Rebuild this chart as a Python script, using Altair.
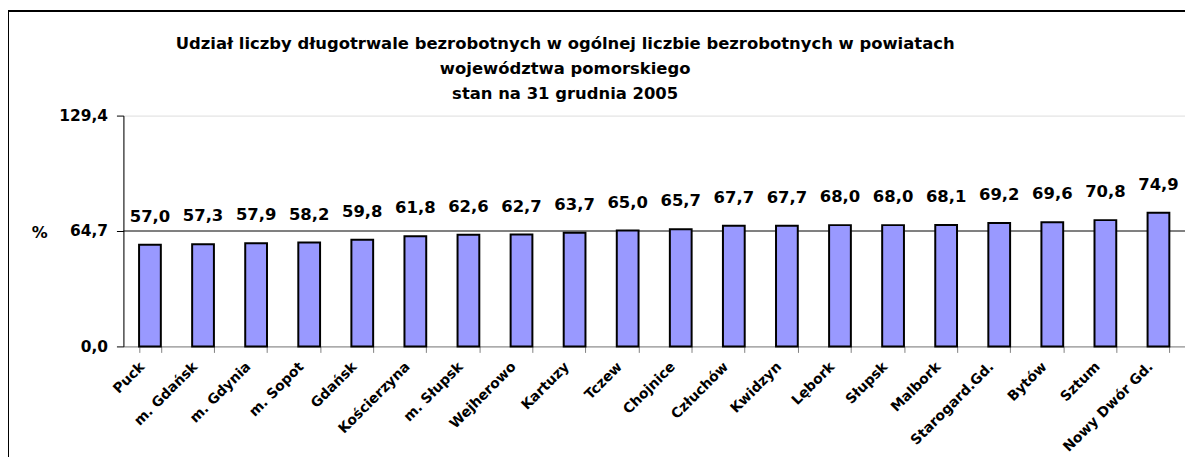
import altair as alt
import pandas as pd

categories = ["Puck", "m. Gdańsk", "m. Gdynia", "m. Sopot", "Gdańsk", "Kościerzyna",
              "m. Słupsk", "Wejherowo", "Kartuzy", "Tczew", "Chojnice", "Człuchów",
              "Kwidzyn", "Lębork", "Słupsk", "Malbork", "Starogard.Gd.", "Bytów",
              "Sztum", "Nowy Dwór Gd."]
values = [57.0, 57.3, 57.9, 58.2, 59.8, 61.8, 62.6, 62.7, 63.7, 65.0, 65.7, 67.7,
          67.7, 68.0, 68.0, 68.1, 69.2, 69.6, 70.8, 74.9]
y_ticks = [0.0, 64.7, 129.4]
reference_value = 64.7
title_lines = ["Udział liczby długotrwale bezrobotnych w ogólnej liczbie bezrobotnych w powiatach",
               "województwa pomorskiego",
               "stan na 31 grudnia 2005"]

FONT = "DejaVu Sans"
W, H = 1067, 232

df = pd.DataFrame({"cat": categories, "val": values})
df["label"] = [f"{v:.1f}".replace(".", ",") for v in values]

xenc = alt.X("cat:N", sort=categories, title=None,
             scale=alt.Scale(paddingInner=0.59, paddingOuter=0.295),
             axis=alt.Axis(labelAngle=-45, labelFont=FONT, labelFontSize=14,
                           labelFontWeight="bold", labelColor="black",
                           labelPadding=7, labelOffset=-13, tickBand="extent", tickSize=6,
                           tickColor="#808080", domainColor="#808080",
                           labelOverlap=False))
yscale = alt.Scale(domain=[0, 129.4], nice=False, zero=True)
yenc = alt.Y("val:Q", scale=yscale, title=None,
             axis=alt.Axis(values=y_ticks, format=".1f",
                           labelExpr="replace(datum.label, '.', ',')",
                           labelFont=FONT, labelFontSize=15.5, labelFontWeight="bold",
                           labelColor="black", tickSize=7, tickColor="black",
                           domainColor="black", labelPadding=9, grid=False))

base = alt.Chart(df)

frame = base.mark_rect(fill=None, stroke="black", strokeWidth=2).encode(
    x=alt.value(-116), x2=alt.value(W + 200), y=alt.value(-105), y2=alt.value(H + 300))

bars = base.mark_bar(color="#9999FF", stroke="black", strokeWidth=2).encode(
    x=xenc, y=yenc)

ref = alt.Chart(pd.DataFrame({"r": [reference_value]})).mark_rule(
    color="black", strokeWidth=1).encode(y=alt.Y("r:Q", scale=yscale))

labels = base.mark_text(font=FONT, fontSize=16.5, fontWeight="bold", color="black",
                        baseline="middle", dy=-28).encode(
    x=alt.X("cat:N", sort=categories), y=alt.Y("val:Q", scale=yscale), text="label:N")

tdf = pd.DataFrame({"t": title_lines, "i": [0, 1, 2]})
title_layers = []
for i, yy in enumerate([-72, -47, -22]):
    title_layers.append(
        alt.Chart(tdf).transform_filter(f"datum.i == {i}").mark_text(
            font=FONT, fontSize=16.5, fontWeight="bold", color="black",
            align="center", baseline="middle").encode(
            x=alt.value(444), y=alt.value(yy), text="t:N"))

pct = alt.Chart(pd.DataFrame({"t": ["%"]})).mark_text(
    font=FONT, fontSize=16, fontWeight="bold", color="black",
    align="center", baseline="middle").encode(
    x=alt.value(-84), y=alt.value(118), text="t:N")

chart = alt.layer(frame, ref, bars, labels, pct, *title_layers).properties(
    width=W, height=H,
    autosize=alt.AutoSizeParams(type="none"),
    padding={"left": 116, "top": 107, "right": 0, "bottom": 110},
).configure_view(stroke="#808080", strokeWidth=1.5).configure(background="white")

chart.save("out.html", embed_options={"renderer": "svg", "actions": False})
